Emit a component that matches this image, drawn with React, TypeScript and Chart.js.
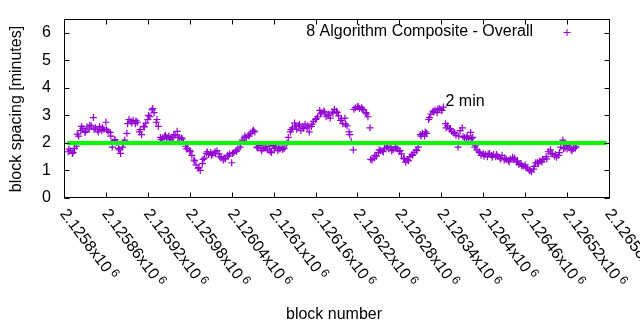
import React, { useEffect, useRef } from "react";
import { Chart, registerables } from "chart.js";

Chart.register(...registerables);

// block numbers (x) of the plotted samples
const blockNumbers = [
  2125806, 2125809, 2125812, 2125815, 2125818, 2125821, 2125824, 2125827, 2125830, 2125833,
  2125836, 2125839, 2125842, 2125845, 2125848, 2125851, 2125854, 2125857, 2125860, 2125863,
  2125866, 2125869, 2125872, 2125875, 2125878, 2125881, 2125884, 2125887, 2125890, 2125893,
  2125896, 2125899, 2125902, 2125905, 2125908, 2125911, 2125914, 2125917, 2125920, 2125923,
  2125926, 2125929, 2125932, 2125935, 2125938, 2125941, 2125944, 2125947, 2125950, 2125953,
  2125956, 2125959, 2125962, 2125965, 2125968, 2125971, 2125974, 2125977, 2125980, 2125983,
  2125986, 2125989, 2125992, 2125995, 2125998, 2126001, 2126004, 2126007, 2126010, 2126013,
  2126016, 2126019, 2126022, 2126025, 2126028, 2126031, 2126034, 2126037, 2126040, 2126043,
  2126046, 2126049, 2126052, 2126055, 2126058, 2126061, 2126064, 2126067, 2126070, 2126073,
  2126076, 2126079, 2126082, 2126085, 2126088, 2126091, 2126094, 2126097, 2126100, 2126103,
  2126106, 2126109, 2126112, 2126115, 2126118, 2126121, 2126124, 2126127, 2126130, 2126133,
  2126136, 2126139, 2126142, 2126145, 2126148, 2126151, 2126154, 2126157, 2126160, 2126163,
  2126166, 2126169, 2126172, 2126175, 2126178, 2126181, 2126184, 2126187, 2126190, 2126193,
  2126196, 2126199, 2126202, 2126205, 2126208, 2126211, 2126214, 2126217, 2126220, 2126223,
  2126226, 2126229, 2126232, 2126235, 2126238, 2126241, 2126244, 2126247, 2126250, 2126253,
  2126256, 2126259, 2126262, 2126265, 2126268, 2126271, 2126274, 2126277, 2126280, 2126283,
  2126286, 2126289, 2126292, 2126295, 2126298, 2126301, 2126304, 2126307, 2126310, 2126313,
  2126316, 2126319, 2126322, 2126325, 2126328, 2126331, 2126334, 2126337, 2126340, 2126343,
  2126346, 2126349, 2126352, 2126355, 2126358, 2126361, 2126364, 2126367, 2126370, 2126373,
  2126376, 2126379, 2126382, 2126385, 2126388, 2126391, 2126394, 2126397, 2126400, 2126403,
  2126406, 2126409, 2126412, 2126415, 2126418, 2126421, 2126424, 2126427, 2126430, 2126433,
  2126436, 2126439, 2126442, 2126445, 2126448, 2126451, 2126454, 2126457, 2126460, 2126463,
  2126466, 2126469, 2126472, 2126475, 2126478, 2126481, 2126484, 2126487, 2126490, 2126493,
  2126496, 2126499, 2126502, 2126505, 2126508, 2126511, 2126514, 2126517, 2126520, 2126523,
  2126526, 2126529, 2126532,
];

// block spacing in minutes ("8 Algorithm Composite - Overall")
const spacingMinutes = [
  1.68, 1.72, 1.62, 1.8, 1.88, 2.25, 2.45, 2.52, 2.38, 2.58,
  2.5, 2.62, 2.92, 2.55, 2.48, 2.6, 2.45, 2.5, 2.75, 2.42,
  2.38, 1.85, 2.08, 2.02, 1.8, 1.62, 1.85, 2.1, 2.35, 2.85,
  2.78, 2.82, 2.7, 2.75, 2.4, 2.3, 2.6, 2.72, 2.85, 2.95,
  3.2, 3.1, 2.75, 2.6, 2.2, 2.15, 2.22, 2.18, 2.25, 2.12,
  2.2, 2.28, 2.42, 2.2, 2.18, 2.05, 1.88, 1.8, 1.72, 1.55,
  1.38, 1.2, 1.08, 1.0, 1.25, 1.45, 1.62, 1.58, 1.65, 1.6,
  1.68, 1.72, 1.6, 1.45, 1.38, 1.42, 1.55, 1.6, 1.28, 1.65,
  1.72, 1.78, 1.85, 2.1, 2.18, 2.2, 2.28, 2.35, 2.42, 2.4,
  1.85, 1.9, 1.78, 1.8, 1.82, 1.75, 1.88, 1.65, 1.9, 1.85,
  1.72, 1.78, 1.85, 1.8, 1.95, 2.2, 2.4, 2.55, 2.72, 2.5,
  2.62, 2.45, 2.58, 2.68, 2.55, 2.4, 2.6, 2.78, 2.85, 2.95,
  3.18, 3.1, 3.15, 2.95, 3.0, 2.9, 3.12, 3.22, 3.15, 2.98,
  2.82, 2.7, 2.9, 2.62, 2.4, 2.05, 1.75, 3.28, 3.3, 3.25,
  3.28, 3.2, 3.1, 2.95, 2.55, 1.38, 1.45, 1.52, 1.65, 1.72,
  1.7, 1.8, 1.85, 1.78, 1.85, 1.75, 1.82, 1.78, 1.7, 1.6,
  1.45, 1.3, 1.38, 1.5, 1.58, 1.65, 1.75, 1.85, 2.3, 2.35,
  2.25, 2.35, 2.85, 3.05, 3.15, 3.2, 3.1, 3.25, 3.2, 3.3,
  2.7, 2.62, 2.5, 2.42, 2.35, 2.28, 1.85, 2.45, 2.55, 2.2,
  2.18, 2.15, 2.38, 2.2, 1.85, 1.75, 1.68, 1.55, 1.62, 1.58,
  1.5, 1.62, 1.55, 1.58, 1.5, 1.52, 1.45, 1.55, 1.38, 1.4,
  1.35, 1.42, 1.48, 1.45, 1.3, 1.22, 1.25, 1.15, 1.2, 1.08,
  1.0, 0.95, 1.05, 1.28, 1.3, 1.35, 1.32, 1.4, 1.5, 1.68,
  1.75, 1.6, 1.52, 1.48, 1.55, 1.85, 2.1, 1.82, 1.78, 1.85, 1.75, 1.8, 1.82,
];

// further samples of the same series (in between the ones above)
const extraBlockNumbers = [
  2125807, 2125813, 2125819, 2125825, 2125831, 2125837, 2125843, 2125849, 2125855, 2125861,
  2125867, 2125873, 2125879, 2125885, 2125891, 2125897, 2125903, 2125909, 2125915, 2125921,
  2125927, 2125933, 2125939, 2125945, 2125951, 2125957, 2125963, 2125969, 2125975, 2125981,
  2125987, 2125993, 2125999, 2126005, 2126011, 2126017, 2126023, 2126029, 2126035, 2126041,
  2126047, 2126053, 2126059, 2126065, 2126071, 2126077, 2126083, 2126089, 2126095, 2126101,
  2126107, 2126113, 2126119, 2126125, 2126131, 2126137, 2126143, 2126149, 2126155, 2126161,
  2126167, 2126173, 2126179, 2126185, 2126191, 2126197, 2126203, 2126209, 2126215, 2126221,
  2126227, 2126233, 2126239, 2126245, 2126251, 2126257, 2126263, 2126269, 2126275, 2126281,
  2126287, 2126293, 2126299, 2126305, 2126311, 2126317, 2126323, 2126329, 2126335, 2126341,
  2126347, 2126353, 2126359, 2126365, 2126371, 2126377, 2126383, 2126389, 2126395, 2126401,
  2126407, 2126413, 2126419, 2126425, 2126431, 2126437, 2126443, 2126449, 2126455, 2126461,
  2126467, 2126473, 2126479, 2126485, 2126491, 2126497, 2126503, 2126509, 2126515, 2126521,
  2126527, 2126533,
];
const extraSpacingMinutes = [
  1.78, 1.66, 2.32, 2.6, 2.42, 2.65, 2.5, 2.4, 2.55, 2.48,
  2.25, 2.12, 1.75, 2.0, 2.7, 2.72, 2.8, 2.48, 2.58, 3.0,
  3.25, 2.85, 2.12, 2.28, 2.15, 2.3, 2.2, 2.15, 1.78, 1.68,
  1.35, 1.1, 1.4, 1.68, 1.55, 1.62, 1.5, 1.45, 1.52, 1.62,
  1.7, 1.95, 2.25, 2.25, 2.46, 1.82, 1.72, 1.88, 1.7, 1.8,
  1.82, 1.76, 2.0, 2.48, 2.62, 2.68, 2.52, 2.62, 2.68, 2.88,
  3.05, 3.12, 3.05, 3.08, 3.1, 2.88, 2.68, 2.3, 3.22, 3.32,
  3.22, 3.05, 1.4, 1.55, 1.75, 1.68, 1.88, 1.72, 1.85, 1.72,
  1.42, 1.35, 1.55, 1.72, 2.25, 2.4, 2.92, 3.12, 3.22, 3.18,
  2.55, 2.52, 2.38, 2.25, 2.22, 2.25, 2.15, 1.92, 1.65, 1.52,
  1.6, 1.48, 1.58, 1.42, 1.45, 1.32, 1.4, 1.35, 1.18, 1.12,
  1.02, 1.15, 1.25, 1.4, 1.42, 1.62, 1.58, 1.65, 1.8, 1.9,
  1.72, 1.88,
];

// 2-minute reference line
const refLineBlocks = [2125804, 2126577];
const refLineMinutes = [2, 2];
const refLabel = "2 min";
const refLabelBlock = 2126346;
const refLabelMinutes = 3.5;

// axes
const xMin = 2125800;
const xMax = 2126580;
const xTickValues = [
  2125800, 2125860, 2125920, 2125980, 2126040, 2126100, 2126160,
  2126220, 2126280, 2126340, 2126400, 2126460, 2126520, 2126580,
];
const xTickLabels = [
  "2.1258", "2.12586", "2.12592", "2.12598", "2.12604", "2.1261", "2.12616",
  "2.12622", "2.12628", "2.12634", "2.1264", "2.12646", "2.12652", "2.12658",
];
const xTickExponent = "6";
const yMin = 0;
const yMax = 6.5;
const yTickValues = [0, 1, 2, 3, 4, 5, 6];

const seriesLabel = "8 Algorithm Composite - Overall";
const xTitle = "block number";
const yTitle = "block spacing [minutes]";

const PURPLE = "#9400d3";
const GREEN = "#00ff00";
const FONT = '"Liberation Sans", Arial, sans-serif';

const decorPlugin = {
  id: "gnuplotDecor",
  afterDatasetsDraw(chart: any) {
    const { ctx, chartArea: a, scales } = chart;
    const xs = scales.x;
    const ys = scales.y;
    ctx.save();
    ctx.strokeStyle = "#000";
    ctx.lineWidth = 1;
    const L = Math.round(a.left) + 0.5;
    const R = Math.round(a.right) + 0.5;
    const T = Math.round(a.top) + 0.5;
    const B = Math.round(a.bottom) - 0.5;
    ctx.strokeRect(L, T, R - L, B - T);
    const tl = 5;
    ctx.beginPath();
    yTickValues.forEach((v) => {
      const py = Math.round(ys.getPixelForValue(v)) + 0.5;
      ctx.moveTo(L, py);
      ctx.lineTo(L + tl, py);
      ctx.moveTo(R, py);
      ctx.lineTo(R - tl, py);
    });
    xTickValues.forEach((v) => {
      const px = Math.round(xs.getPixelForValue(v)) + 0.5;
      ctx.moveTo(px, B);
      ctx.lineTo(px, B - tl);
      ctx.moveTo(px, T);
      ctx.lineTo(px, T + tl);
    });
    ctx.stroke();

    ctx.fillStyle = "#000";
    ctx.font = `16px ${FONT}`;
    // y tick labels
    ctx.textAlign = "right";
    ctx.textBaseline = "middle";
    yTickValues.forEach((v) => {
      ctx.fillText(String(v), 51, ys.getPixelForValue(v));
    });
    // x tick labels (rotated)
    const ang = (53 * Math.PI) / 180;
    xTickValues.forEach((v, i) => {
      const px = xs.getPixelForValue(v);
      ctx.save();
      ctx.translate(px - 1, 211);
      ctx.rotate(ang);
      ctx.textAlign = "left";
      ctx.textBaseline = "middle";
      ctx.font = `16px ${FONT}`;
      const main = xTickLabels[i] + "x10";
      ctx.fillText(main, 0, 0);
      const w = ctx.measureText(main).width;
      ctx.font = `12px ${FONT}`;
      ctx.fillText(xTickExponent, w + 3, -4);
      ctx.restore();
    });
    // axis titles
    ctx.font = `16px ${FONT}`;
    ctx.textAlign = "center";
    ctx.textBaseline = "middle";
    ctx.fillText(xTitle, 334, 315);
    ctx.save();
    ctx.translate(17, 109);
    ctx.rotate(-Math.PI / 2);
    ctx.fillText(yTitle, 0, 0);
    ctx.restore();
    // legend
    ctx.textAlign = "right";
    ctx.fillText(seriesLabel, 533, 32);
    ctx.strokeStyle = PURPLE;
    ctx.beginPath();
    ctx.moveTo(563.5, 32.5);
    ctx.lineTo(570.5, 32.5);
    ctx.moveTo(567, 29);
    ctx.lineTo(567, 36);
    ctx.stroke();
    // 2 min label
    ctx.fillStyle = "#000";
    ctx.textAlign = "left";
    ctx.fillText(refLabel, xs.getPixelForValue(refLabelBlock), ys.getPixelForValue(refLabelMinutes));
    ctx.restore();
  },
};

export default function App() {
  const canvasRef = useRef<HTMLCanvasElement | null>(null);
  useEffect(() => {
    const canvas = canvasRef.current;
    if (!canvas) return;
    const points = blockNumbers
      .map((b, i) => ({ x: b, y: spacingMinutes[i] }))
      .concat(extraBlockNumbers.map((b, i) => ({ x: b, y: extraSpacingMinutes[i] })));
    const refPoints = refLineBlocks.map((b, i) => ({ x: b, y: refLineMinutes[i] }));
    const chart = new Chart(canvas, {
      type: "scatter",
      data: {
        datasets: [
          {
            label: "2 min",
            data: refPoints,
            showLine: true,
            borderColor: GREEN,
            backgroundColor: GREEN,
            borderWidth: 4,
            pointRadius: 0,
            order: 0,
          },
          {
            label: seriesLabel,
            data: points,
            pointStyle: "cross",
            pointRadius: 3.5,
            pointBorderWidth: 1.2,
            borderColor: PURPLE,
            backgroundColor: PURPLE,
            showLine: false,
            order: 1,
          },
        ],
      },
      options: {
        responsive: false,
        animation: false,
        devicePixelRatio: 1,
        layout: { padding: { left: 64, right: 31, top: 19, bottom: 132 } },
        plugins: { legend: { display: false }, tooltip: { enabled: false } },
        scales: {
          x: { type: "linear", min: xMin, max: xMax, display: false },
          y: { type: "linear", min: yMin, max: yMax, display: false },
        },
      },
      plugins: [decorPlugin],
    });
    return () => chart.destroy();
  }, []);
  return (
    <div style={{ position: "absolute", left: 0, top: 0, width: 640, height: 330, background: "#fff" }}>
      <canvas ref={canvasRef} width={640} height={330} style={{ display: "block" }} />
    </div>
  );
}
